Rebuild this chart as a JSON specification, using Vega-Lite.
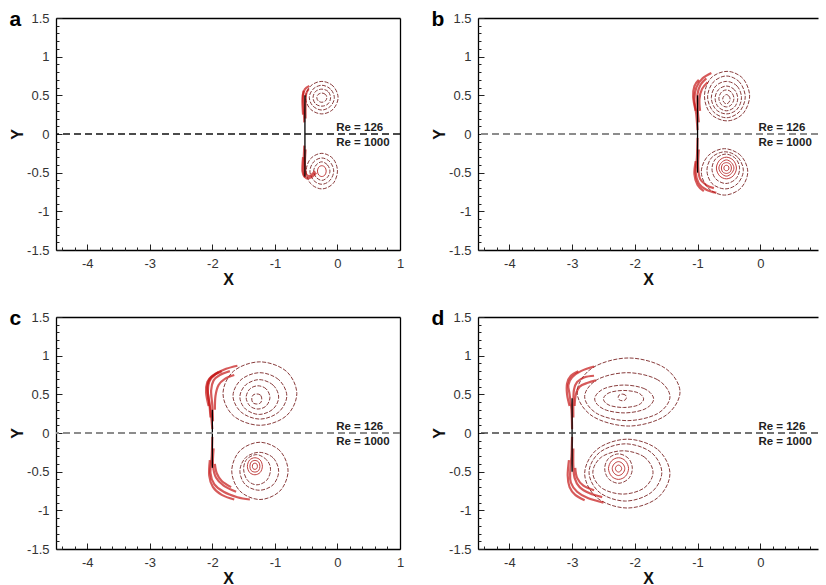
{
"$schema":"https://vega.github.io/schema/vega-lite/v6.json",
"padding":{"left":9,"top":9,"right":0,"bottom":0},
"background":"#ffffff",
"datasets":{"d":[
{"p":"a","k":"r","g":"au1","o":0,"x":0.01,"y":0.47},{"p":"a","k":"r","g":"au1","o":1,"x":-0.07,"y":0.62},{"p":"a","k":"r","g":"au1","o":2,"x":-0.25,"y":0.68},{"p":"a","k":"r","g":"au1","o":3,"x":-0.43,"y":0.62},{"p":"a","k":"r","g":"au1","o":4,"x":-0.51,"y":0.47},{"p":"a","k":"r","g":"au1","o":5,"x":-0.43,"y":0.32},{"p":"a","k":"r","g":"au1","o":6,"x":-0.25,"y":0.26},{"p":"a","k":"r","g":"au1","o":7,"x":-0.07,"y":0.32},
{"p":"a","k":"r","g":"au2","o":0,"x":-0.05,"y":0.47},{"p":"a","k":"r","g":"au2","o":1,"x":-0.11,"y":0.58},{"p":"a","k":"r","g":"au2","o":2,"x":-0.25,"y":0.63},{"p":"a","k":"r","g":"au2","o":3,"x":-0.39,"y":0.58},{"p":"a","k":"r","g":"au2","o":4,"x":-0.45,"y":0.47},{"p":"a","k":"r","g":"au2","o":5,"x":-0.39,"y":0.36},{"p":"a","k":"r","g":"au2","o":6,"x":-0.25,"y":0.31},{"p":"a","k":"r","g":"au2","o":7,"x":-0.11,"y":0.36},
{"p":"a","k":"r","g":"au3","o":0,"x":-0.11,"y":0.47},{"p":"a","k":"r","g":"au3","o":1,"x":-0.15,"y":0.55},{"p":"a","k":"r","g":"au3","o":2,"x":-0.25,"y":0.58},{"p":"a","k":"r","g":"au3","o":3,"x":-0.35,"y":0.55},{"p":"a","k":"r","g":"au3","o":4,"x":-0.39,"y":0.47},{"p":"a","k":"r","g":"au3","o":5,"x":-0.35,"y":0.39},{"p":"a","k":"r","g":"au3","o":6,"x":-0.25,"y":0.36},{"p":"a","k":"r","g":"au3","o":7,"x":-0.15,"y":0.39},
{"p":"a","k":"r","g":"au4","o":0,"x":-0.17,"y":0.47},{"p":"a","k":"r","g":"au4","o":1,"x":-0.19,"y":0.51},{"p":"a","k":"r","g":"au4","o":2,"x":-0.25,"y":0.53},{"p":"a","k":"r","g":"au4","o":3,"x":-0.31,"y":0.51},{"p":"a","k":"r","g":"au4","o":4,"x":-0.33,"y":0.47},{"p":"a","k":"r","g":"au4","o":5,"x":-0.31,"y":0.43},{"p":"a","k":"r","g":"au4","o":6,"x":-0.25,"y":0.41},{"p":"a","k":"r","g":"au4","o":7,"x":-0.19,"y":0.43},
{"p":"a","k":"r","g":"al1","o":0,"x":0.0,"y":-0.48},{"p":"a","k":"r","g":"al1","o":1,"x":-0.07,"y":-0.32},{"p":"a","k":"r","g":"al1","o":2,"x":-0.25,"y":-0.25},{"p":"a","k":"r","g":"al1","o":3,"x":-0.43,"y":-0.32},{"p":"a","k":"r","g":"al1","o":4,"x":-0.5,"y":-0.48},{"p":"a","k":"r","g":"al1","o":5,"x":-0.43,"y":-0.64},{"p":"a","k":"r","g":"al1","o":6,"x":-0.25,"y":-0.71},{"p":"a","k":"r","g":"al1","o":7,"x":-0.07,"y":-0.64},
{"p":"a","k":"r","g":"al2","o":0,"x":-0.06,"y":-0.48},{"p":"a","k":"r","g":"al2","o":1,"x":-0.12,"y":-0.36},{"p":"a","k":"r","g":"al2","o":2,"x":-0.25,"y":-0.31},{"p":"a","k":"r","g":"al2","o":3,"x":-0.38,"y":-0.36},{"p":"a","k":"r","g":"al2","o":4,"x":-0.44,"y":-0.48},{"p":"a","k":"r","g":"al2","o":5,"x":-0.38,"y":-0.6},{"p":"a","k":"r","g":"al2","o":6,"x":-0.25,"y":-0.65},{"p":"a","k":"r","g":"al2","o":7,"x":-0.12,"y":-0.6},
{"p":"a","k":"r","g":"al3","o":0,"x":-0.12,"y":-0.48},{"p":"a","k":"r","g":"al3","o":1,"x":-0.16,"y":-0.4},{"p":"a","k":"r","g":"al3","o":2,"x":-0.25,"y":-0.36},{"p":"a","k":"r","g":"al3","o":3,"x":-0.34,"y":-0.4},{"p":"a","k":"r","g":"al3","o":4,"x":-0.38,"y":-0.48},{"p":"a","k":"r","g":"al3","o":5,"x":-0.34,"y":-0.56},{"p":"a","k":"r","g":"al3","o":6,"x":-0.25,"y":-0.6},{"p":"a","k":"r","g":"al3","o":7,"x":-0.16,"y":-0.56},
{"p":"a","k":"c","g":"al4","o":0,"x":-0.18,"y":-0.48},{"p":"a","k":"c","g":"al4","o":1,"x":-0.2,"y":-0.43},{"p":"a","k":"c","g":"al4","o":2,"x":-0.25,"y":-0.41},{"p":"a","k":"c","g":"al4","o":3,"x":-0.3,"y":-0.43},{"p":"a","k":"c","g":"al4","o":4,"x":-0.32,"y":-0.48},{"p":"a","k":"c","g":"al4","o":5,"x":-0.3,"y":-0.53},{"p":"a","k":"c","g":"al4","o":6,"x":-0.25,"y":-0.55},{"p":"a","k":"c","g":"al4","o":7,"x":-0.2,"y":-0.53},
{"p":"a","k":"s","g":"as1","o":0,"x":-0.53,"y":0.15},{"p":"a","k":"s","g":"as1","o":1,"x":-0.54,"y":0.35},{"p":"a","k":"s","g":"as1","o":2,"x":-0.55,"y":0.5},{"p":"a","k":"s","g":"as1","o":3,"x":-0.52,"y":0.58},{"p":"a","k":"s","g":"as1","o":4,"x":-0.45,"y":0.62},
{"p":"a","k":"s","g":"as2","o":0,"x":-0.51,"y":0.2},{"p":"a","k":"s","g":"as2","o":1,"x":-0.51,"y":0.4},{"p":"a","k":"s","g":"as2","o":2,"x":-0.5,"y":0.52},{"p":"a","k":"s","g":"as2","o":3,"x":-0.46,"y":0.58},
{"p":"a","k":"s","g":"as3","o":0,"x":-0.55,"y":0.25},{"p":"a","k":"s","g":"as3","o":1,"x":-0.56,"y":0.45},{"p":"a","k":"s","g":"as3","o":2,"x":-0.54,"y":0.56},
{"p":"a","k":"s","g":"as4","o":0,"x":-0.53,"y":-0.15},{"p":"a","k":"s","g":"as4","o":1,"x":-0.54,"y":-0.35},{"p":"a","k":"s","g":"as4","o":2,"x":-0.54,"y":-0.5},{"p":"a","k":"s","g":"as4","o":3,"x":-0.5,"y":-0.57},{"p":"a","k":"s","g":"as4","o":4,"x":-0.42,"y":-0.56},{"p":"a","k":"s","g":"as4","o":5,"x":-0.34,"y":-0.5},
{"p":"a","k":"s","g":"as5","o":0,"x":-0.51,"y":-0.2},{"p":"a","k":"s","g":"as5","o":1,"x":-0.52,"y":-0.4},{"p":"a","k":"s","g":"as5","o":2,"x":-0.5,"y":-0.52},{"p":"a","k":"s","g":"as5","o":3,"x":-0.44,"y":-0.54},{"p":"a","k":"s","g":"as5","o":4,"x":-0.36,"y":-0.48},
{"p":"a","k":"s","g":"as6","o":0,"x":-0.55,"y":-0.3},{"p":"a","k":"s","g":"as6","o":1,"x":-0.56,"y":-0.48},{"p":"a","k":"s","g":"as6","o":2,"x":-0.52,"y":-0.56},
{"p":"a","k":"p","g":"ap","o":0,"x":-0.52,"y":0.5},{"p":"a","k":"p","g":"ap","o":1,"x":-0.52,"y":-0.55},

{"p":"b","k":"r","g":"bu1","o":0,"x":-0.17,"y":0.49},{"p":"b","k":"r","g":"bu1","o":1,"x":-0.28,"y":0.72},{"p":"b","k":"r","g":"bu1","o":2,"x":-0.53,"y":0.81},{"p":"b","k":"r","g":"bu1","o":3,"x":-0.79,"y":0.72},{"p":"b","k":"r","g":"bu1","o":4,"x":-0.89,"y":0.49},{"p":"b","k":"r","g":"bu1","o":5,"x":-0.79,"y":0.26},{"p":"b","k":"r","g":"bu1","o":6,"x":-0.53,"y":0.17},{"p":"b","k":"r","g":"bu1","o":7,"x":-0.28,"y":0.26},
{"p":"b","k":"r","g":"bu2","o":0,"x":-0.24,"y":0.48},{"p":"b","k":"r","g":"bu2","o":1,"x":-0.33,"y":0.67},{"p":"b","k":"r","g":"bu2","o":2,"x":-0.54,"y":0.75},{"p":"b","k":"r","g":"bu2","o":3,"x":-0.75,"y":0.67},{"p":"b","k":"r","g":"bu2","o":4,"x":-0.84,"y":0.48},{"p":"b","k":"r","g":"bu2","o":5,"x":-0.75,"y":0.29},{"p":"b","k":"r","g":"bu2","o":6,"x":-0.54,"y":0.21},{"p":"b","k":"r","g":"bu2","o":7,"x":-0.33,"y":0.29},
{"p":"b","k":"r","g":"bu3","o":0,"x":-0.3,"y":0.47},{"p":"b","k":"r","g":"bu3","o":1,"x":-0.37,"y":0.62},{"p":"b","k":"r","g":"bu3","o":2,"x":-0.54,"y":0.68},{"p":"b","k":"r","g":"bu3","o":3,"x":-0.71,"y":0.62},{"p":"b","k":"r","g":"bu3","o":4,"x":-0.78,"y":0.47},{"p":"b","k":"r","g":"bu3","o":5,"x":-0.71,"y":0.32},{"p":"b","k":"r","g":"bu3","o":6,"x":-0.54,"y":0.26},{"p":"b","k":"r","g":"bu3","o":7,"x":-0.37,"y":0.32},
{"p":"b","k":"r","g":"bu4","o":0,"x":-0.36,"y":0.46},{"p":"b","k":"r","g":"bu4","o":1,"x":-0.41,"y":0.57},{"p":"b","k":"r","g":"bu4","o":2,"x":-0.54,"y":0.62},{"p":"b","k":"r","g":"bu4","o":3,"x":-0.67,"y":0.57},{"p":"b","k":"r","g":"bu4","o":4,"x":-0.72,"y":0.46},{"p":"b","k":"r","g":"bu4","o":5,"x":-0.67,"y":0.35},{"p":"b","k":"r","g":"bu4","o":6,"x":-0.54,"y":0.3},{"p":"b","k":"r","g":"bu4","o":7,"x":-0.41,"y":0.35},
{"p":"b","k":"r","g":"bu5","o":0,"x":-0.42,"y":0.46},{"p":"b","k":"r","g":"bu5","o":1,"x":-0.46,"y":0.54},{"p":"b","k":"r","g":"bu5","o":2,"x":-0.54,"y":0.57},{"p":"b","k":"r","g":"bu5","o":3,"x":-0.62,"y":0.54},{"p":"b","k":"r","g":"bu5","o":4,"x":-0.66,"y":0.46},{"p":"b","k":"r","g":"bu5","o":5,"x":-0.62,"y":0.38},{"p":"b","k":"r","g":"bu5","o":6,"x":-0.54,"y":0.35},{"p":"b","k":"r","g":"bu5","o":7,"x":-0.46,"y":0.38},
{"p":"b","k":"r","g":"bu6","o":0,"x":-0.48,"y":0.45},{"p":"b","k":"r","g":"bu6","o":1,"x":-0.5,"y":0.49},{"p":"b","k":"r","g":"bu6","o":2,"x":-0.54,"y":0.51},{"p":"b","k":"r","g":"bu6","o":3,"x":-0.58,"y":0.49},{"p":"b","k":"r","g":"bu6","o":4,"x":-0.6,"y":0.45},{"p":"b","k":"r","g":"bu6","o":5,"x":-0.58,"y":0.41},{"p":"b","k":"r","g":"bu6","o":6,"x":-0.54,"y":0.39},{"p":"b","k":"r","g":"bu6","o":7,"x":-0.5,"y":0.41},
{"p":"b","k":"r","g":"bl1","o":0,"x":-0.2,"y":-0.49},{"p":"b","k":"r","g":"bl1","o":1,"x":-0.31,"y":-0.28},{"p":"b","k":"r","g":"bl1","o":2,"x":-0.57,"y":-0.19},{"p":"b","k":"r","g":"bl1","o":3,"x":-0.83,"y":-0.28},{"p":"b","k":"r","g":"bl1","o":4,"x":-0.94,"y":-0.49},{"p":"b","k":"r","g":"bl1","o":5,"x":-0.83,"y":-0.7},{"p":"b","k":"r","g":"bl1","o":6,"x":-0.57,"y":-0.79},{"p":"b","k":"r","g":"bl1","o":7,"x":-0.31,"y":-0.7},
{"p":"b","k":"r","g":"bl2","o":0,"x":-0.27,"y":-0.47},{"p":"b","k":"r","g":"bl2","o":1,"x":-0.36,"y":-0.3},{"p":"b","k":"r","g":"bl2","o":2,"x":-0.56,"y":-0.23},{"p":"b","k":"r","g":"bl2","o":3,"x":-0.77,"y":-0.3},{"p":"b","k":"r","g":"bl2","o":4,"x":-0.85,"y":-0.47},{"p":"b","k":"r","g":"bl2","o":5,"x":-0.77,"y":-0.64},{"p":"b","k":"r","g":"bl2","o":6,"x":-0.56,"y":-0.71},{"p":"b","k":"r","g":"bl2","o":7,"x":-0.36,"y":-0.64},
{"p":"b","k":"r","g":"bl3","o":0,"x":-0.33,"y":-0.45},{"p":"b","k":"r","g":"bl3","o":1,"x":-0.39,"y":-0.32},{"p":"b","k":"r","g":"bl3","o":2,"x":-0.55,"y":-0.26},{"p":"b","k":"r","g":"bl3","o":3,"x":-0.71,"y":-0.32},{"p":"b","k":"r","g":"bl3","o":4,"x":-0.77,"y":-0.45},{"p":"b","k":"r","g":"bl3","o":5,"x":-0.71,"y":-0.58},{"p":"b","k":"r","g":"bl3","o":6,"x":-0.55,"y":-0.64},{"p":"b","k":"r","g":"bl3","o":7,"x":-0.39,"y":-0.58},
{"p":"b","k":"c","g":"bc1","o":0,"x":-0.38,"y":-0.44},{"p":"b","k":"c","g":"bc1","o":1,"x":-0.43,"y":-0.34},{"p":"b","k":"c","g":"bc1","o":2,"x":-0.54,"y":-0.3},{"p":"b","k":"c","g":"bc1","o":3,"x":-0.65,"y":-0.34},{"p":"b","k":"c","g":"bc1","o":4,"x":-0.7,"y":-0.44},{"p":"b","k":"c","g":"bc1","o":5,"x":-0.65,"y":-0.54},{"p":"b","k":"c","g":"bc1","o":6,"x":-0.54,"y":-0.58},{"p":"b","k":"c","g":"bc1","o":7,"x":-0.43,"y":-0.54},
{"p":"b","k":"c","g":"bc2","o":0,"x":-0.42,"y":-0.44},{"p":"b","k":"c","g":"bc2","o":1,"x":-0.46,"y":-0.37},{"p":"b","k":"c","g":"bc2","o":2,"x":-0.54,"y":-0.335},{"p":"b","k":"c","g":"bc2","o":3,"x":-0.62,"y":-0.37},{"p":"b","k":"c","g":"bc2","o":4,"x":-0.66,"y":-0.44},{"p":"b","k":"c","g":"bc2","o":5,"x":-0.62,"y":-0.51},{"p":"b","k":"c","g":"bc2","o":6,"x":-0.54,"y":-0.545},{"p":"b","k":"c","g":"bc2","o":7,"x":-0.46,"y":-0.51},
{"p":"b","k":"c","g":"bc3","o":0,"x":-0.46,"y":-0.44},{"p":"b","k":"c","g":"bc3","o":1,"x":-0.48,"y":-0.39},{"p":"b","k":"c","g":"bc3","o":2,"x":-0.54,"y":-0.37},{"p":"b","k":"c","g":"bc3","o":3,"x":-0.6,"y":-0.39},{"p":"b","k":"c","g":"bc3","o":4,"x":-0.62,"y":-0.44},{"p":"b","k":"c","g":"bc3","o":5,"x":-0.6,"y":-0.49},{"p":"b","k":"c","g":"bc3","o":6,"x":-0.54,"y":-0.51},{"p":"b","k":"c","g":"bc3","o":7,"x":-0.48,"y":-0.49},
{"p":"b","k":"c","g":"bc4","o":0,"x":-0.5,"y":-0.44},{"p":"b","k":"c","g":"bc4","o":1,"x":-0.51,"y":-0.415},{"p":"b","k":"c","g":"bc4","o":2,"x":-0.54,"y":-0.405},{"p":"b","k":"c","g":"bc4","o":3,"x":-0.57,"y":-0.415},{"p":"b","k":"c","g":"bc4","o":4,"x":-0.58,"y":-0.44},{"p":"b","k":"c","g":"bc4","o":5,"x":-0.57,"y":-0.465},{"p":"b","k":"c","g":"bc4","o":6,"x":-0.54,"y":-0.475},{"p":"b","k":"c","g":"bc4","o":7,"x":-0.51,"y":-0.465},
{"p":"b","k":"s","g":"bs1","o":0,"x":-1.0,"y":0.05},{"p":"b","k":"s","g":"bs1","o":1,"x":-1.02,"y":0.25},{"p":"b","k":"s","g":"bs1","o":2,"x":-1.05,"y":0.45},{"p":"b","k":"s","g":"bs1","o":3,"x":-1.02,"y":0.6},{"p":"b","k":"s","g":"bs1","o":4,"x":-0.92,"y":0.72},{"p":"b","k":"s","g":"bs1","o":5,"x":-0.78,"y":0.79},
{"p":"b","k":"s","g":"bs2","o":0,"x":-0.98,"y":0.15},{"p":"b","k":"s","g":"bs2","o":1,"x":-1.0,"y":0.35},{"p":"b","k":"s","g":"bs2","o":2,"x":-1.0,"y":0.52},{"p":"b","k":"s","g":"bs2","o":3,"x":-0.95,"y":0.64},{"p":"b","k":"s","g":"bs2","o":4,"x":-0.86,"y":0.72},
{"p":"b","k":"s","g":"bs3","o":0,"x":-1.03,"y":0.3},{"p":"b","k":"s","g":"bs3","o":1,"x":-1.07,"y":0.48},{"p":"b","k":"s","g":"bs3","o":2,"x":-1.05,"y":0.62},{"p":"b","k":"s","g":"bs3","o":3,"x":-0.98,"y":0.7},
{"p":"b","k":"s","g":"bs4","o":0,"x":-0.96,"y":0.3},{"p":"b","k":"s","g":"bs4","o":1,"x":-0.97,"y":0.45},{"p":"b","k":"s","g":"bs4","o":2,"x":-0.93,"y":0.58},{"p":"b","k":"s","g":"bs4","o":3,"x":-0.84,"y":0.67},
{"p":"b","k":"s","g":"bs5","o":0,"x":-1.0,"y":-0.05},{"p":"b","k":"s","g":"bs5","o":1,"x":-1.01,"y":-0.3},{"p":"b","k":"s","g":"bs5","o":2,"x":-1.03,"y":-0.5},{"p":"b","k":"s","g":"bs5","o":3,"x":-0.98,"y":-0.64},{"p":"b","k":"s","g":"bs5","o":4,"x":-0.86,"y":-0.72},{"p":"b","k":"s","g":"bs5","o":5,"x":-0.7,"y":-0.76},
{"p":"b","k":"s","g":"bs6","o":0,"x":-0.98,"y":-0.2},{"p":"b","k":"s","g":"bs6","o":1,"x":-0.99,"y":-0.42},{"p":"b","k":"s","g":"bs6","o":2,"x":-0.96,"y":-0.58},{"p":"b","k":"s","g":"bs6","o":3,"x":-0.86,"y":-0.66},{"p":"b","k":"s","g":"bs6","o":4,"x":-0.74,"y":-0.7},
{"p":"b","k":"s","g":"bs7","o":0,"x":-1.03,"y":-0.35},{"p":"b","k":"s","g":"bs7","o":1,"x":-1.05,"y":-0.52},{"p":"b","k":"s","g":"bs7","o":2,"x":-1.0,"y":-0.66},{"p":"b","k":"s","g":"bs7","o":3,"x":-0.9,"y":-0.74},
{"p":"b","k":"p","g":"bp","o":0,"x":-1.0,"y":0.5},{"p":"b","k":"p","g":"bp","o":1,"x":-1.0,"y":-0.5},

{"p":"c","k":"r","g":"cu1","o":0,"x":-0.65,"y":0.51},{"p":"c","k":"r","g":"cu1","o":1,"x":-0.82,"y":0.8},{"p":"c","k":"r","g":"cu1","o":2,"x":-1.24,"y":0.92},{"p":"c","k":"r","g":"cu1","o":3,"x":-1.66,"y":0.8},{"p":"c","k":"r","g":"cu1","o":4,"x":-1.83,"y":0.51},{"p":"c","k":"r","g":"cu1","o":5,"x":-1.66,"y":0.22},{"p":"c","k":"r","g":"cu1","o":6,"x":-1.24,"y":0.1},{"p":"c","k":"r","g":"cu1","o":7,"x":-0.82,"y":0.22},
{"p":"c","k":"r","g":"cu2","o":0,"x":-0.81,"y":0.48},{"p":"c","k":"r","g":"cu2","o":1,"x":-0.94,"y":0.69},{"p":"c","k":"r","g":"cu2","o":2,"x":-1.24,"y":0.78},{"p":"c","k":"r","g":"cu2","o":3,"x":-1.54,"y":0.69},{"p":"c","k":"r","g":"cu2","o":4,"x":-1.67,"y":0.48},{"p":"c","k":"r","g":"cu2","o":5,"x":-1.54,"y":0.27},{"p":"c","k":"r","g":"cu2","o":6,"x":-1.24,"y":0.18},{"p":"c","k":"r","g":"cu2","o":7,"x":-0.94,"y":0.27},
{"p":"c","k":"r","g":"cu3","o":0,"x":-0.94,"y":0.465},{"p":"c","k":"r","g":"cu3","o":1,"x":-1.03,"y":0.62},{"p":"c","k":"r","g":"cu3","o":2,"x":-1.25,"y":0.69},{"p":"c","k":"r","g":"cu3","o":3,"x":-1.47,"y":0.62},{"p":"c","k":"r","g":"cu3","o":4,"x":-1.56,"y":0.465},{"p":"c","k":"r","g":"cu3","o":5,"x":-1.47,"y":0.31},{"p":"c","k":"r","g":"cu3","o":6,"x":-1.25,"y":0.24},{"p":"c","k":"r","g":"cu3","o":7,"x":-1.03,"y":0.31},
{"p":"c","k":"r","g":"cu4","o":0,"x":-1.08,"y":0.46},{"p":"c","k":"r","g":"cu4","o":1,"x":-1.14,"y":0.57},{"p":"c","k":"r","g":"cu4","o":2,"x":-1.27,"y":0.61},{"p":"c","k":"r","g":"cu4","o":3,"x":-1.4,"y":0.57},{"p":"c","k":"r","g":"cu4","o":4,"x":-1.46,"y":0.46},{"p":"c","k":"r","g":"cu4","o":5,"x":-1.4,"y":0.35},{"p":"c","k":"r","g":"cu4","o":6,"x":-1.27,"y":0.31},{"p":"c","k":"r","g":"cu4","o":7,"x":-1.14,"y":0.35},
{"p":"c","k":"r","g":"cu5","o":0,"x":-1.21,"y":0.44},{"p":"c","k":"r","g":"cu5","o":1,"x":-1.23,"y":0.49},{"p":"c","k":"r","g":"cu5","o":2,"x":-1.29,"y":0.505},{"p":"c","k":"r","g":"cu5","o":3,"x":-1.35,"y":0.49},{"p":"c","k":"r","g":"cu5","o":4,"x":-1.37,"y":0.44},{"p":"c","k":"r","g":"cu5","o":5,"x":-1.35,"y":0.39},{"p":"c","k":"r","g":"cu5","o":6,"x":-1.29,"y":0.375},{"p":"c","k":"r","g":"cu5","o":7,"x":-1.23,"y":0.39},
{"p":"c","k":"r","g":"cl1","o":0,"x":-0.79,"y":-0.49},{"p":"c","k":"r","g":"cl1","o":1,"x":-0.92,"y":-0.23},{"p":"c","k":"r","g":"cl1","o":2,"x":-1.24,"y":-0.12},{"p":"c","k":"r","g":"cl1","o":3,"x":-1.56,"y":-0.23},{"p":"c","k":"r","g":"cl1","o":4,"x":-1.69,"y":-0.49},{"p":"c","k":"r","g":"cl1","o":5,"x":-1.56,"y":-0.75},{"p":"c","k":"r","g":"cl1","o":6,"x":-1.24,"y":-0.86},{"p":"c","k":"r","g":"cl1","o":7,"x":-0.92,"y":-0.75},
{"p":"c","k":"r","g":"cl2","o":0,"x":-0.94,"y":-0.495},{"p":"c","k":"r","g":"cl2","o":1,"x":-1.03,"y":-0.32},{"p":"c","k":"r","g":"cl2","o":2,"x":-1.25,"y":-0.25},{"p":"c","k":"r","g":"cl2","o":3,"x":-1.47,"y":-0.32},{"p":"c","k":"r","g":"cl2","o":4,"x":-1.56,"y":-0.495},{"p":"c","k":"r","g":"cl2","o":5,"x":-1.47,"y":-0.67},{"p":"c","k":"r","g":"cl2","o":6,"x":-1.25,"y":-0.74},{"p":"c","k":"r","g":"cl2","o":7,"x":-1.03,"y":-0.67},
{"p":"c","k":"r","g":"cl3","o":0,"x":-1.07,"y":-0.47},{"p":"c","k":"r","g":"cl3","o":1,"x":-1.13,"y":-0.35},{"p":"c","k":"r","g":"cl3","o":2,"x":-1.29,"y":-0.28},{"p":"c","k":"r","g":"cl3","o":3,"x":-1.45,"y":-0.34},{"p":"c","k":"r","g":"cl3","o":4,"x":-1.5,"y":-0.47},{"p":"c","k":"r","g":"cl3","o":5,"x":-1.44,"y":-0.61},{"p":"c","k":"r","g":"cl3","o":6,"x":-1.29,"y":-0.67},{"p":"c","k":"r","g":"cl3","o":7,"x":-1.13,"y":-0.61},
{"p":"c","k":"c","g":"cc1","o":0,"x":-1.2,"y":-0.43},{"p":"c","k":"c","g":"cc1","o":1,"x":-1.235,"y":-0.35},{"p":"c","k":"c","g":"cc1","o":2,"x":-1.32,"y":-0.32},{"p":"c","k":"c","g":"cc1","o":3,"x":-1.405,"y":-0.35},{"p":"c","k":"c","g":"cc1","o":4,"x":-1.44,"y":-0.43},{"p":"c","k":"c","g":"cc1","o":5,"x":-1.405,"y":-0.51},{"p":"c","k":"c","g":"cc1","o":6,"x":-1.32,"y":-0.54},{"p":"c","k":"c","g":"cc1","o":7,"x":-1.235,"y":-0.51},
{"p":"c","k":"c","g":"cc2","o":0,"x":-1.24,"y":-0.43},{"p":"c","k":"c","g":"cc2","o":1,"x":-1.26,"y":-0.375},{"p":"c","k":"c","g":"cc2","o":2,"x":-1.32,"y":-0.355},{"p":"c","k":"c","g":"cc2","o":3,"x":-1.38,"y":-0.375},{"p":"c","k":"c","g":"cc2","o":4,"x":-1.4,"y":-0.43},{"p":"c","k":"c","g":"cc2","o":5,"x":-1.38,"y":-0.485},{"p":"c","k":"c","g":"cc2","o":6,"x":-1.32,"y":-0.505},{"p":"c","k":"c","g":"cc2","o":7,"x":-1.26,"y":-0.485},
{"p":"c","k":"c","g":"cc3","o":0,"x":-1.28,"y":-0.43},{"p":"c","k":"c","g":"cc3","o":1,"x":-1.29,"y":-0.4},{"p":"c","k":"c","g":"cc3","o":2,"x":-1.32,"y":-0.39},{"p":"c","k":"c","g":"cc3","o":3,"x":-1.35,"y":-0.4},{"p":"c","k":"c","g":"cc3","o":4,"x":-1.36,"y":-0.43},{"p":"c","k":"c","g":"cc3","o":5,"x":-1.35,"y":-0.46},{"p":"c","k":"c","g":"cc3","o":6,"x":-1.32,"y":-0.47},{"p":"c","k":"c","g":"cc3","o":7,"x":-1.29,"y":-0.46},
{"p":"c","k":"s","g":"cs1","o":0,"x":-2.0,"y":0.05},{"p":"c","k":"s","g":"cs1","o":1,"x":-2.03,"y":0.3},{"p":"c","k":"s","g":"cs1","o":2,"x":-2.07,"y":0.5},{"p":"c","k":"s","g":"cs1","o":3,"x":-2.05,"y":0.66},{"p":"c","k":"s","g":"cs1","o":4,"x":-1.95,"y":0.76},{"p":"c","k":"s","g":"cs1","o":5,"x":-1.78,"y":0.83},{"p":"c","k":"s","g":"cs1","o":6,"x":-1.6,"y":0.87},
{"p":"c","k":"s","g":"cs2","o":0,"x":-1.99,"y":0.15},{"p":"c","k":"s","g":"cs2","o":1,"x":-2.0,"y":0.35},{"p":"c","k":"s","g":"cs2","o":2,"x":-2.02,"y":0.55},{"p":"c","k":"s","g":"cs2","o":3,"x":-1.98,"y":0.68},{"p":"c","k":"s","g":"cs2","o":4,"x":-1.88,"y":0.75},{"p":"c","k":"s","g":"cs2","o":5,"x":-1.72,"y":0.8},
{"p":"c","k":"s","g":"cs3","o":0,"x":-2.06,"y":0.35},{"p":"c","k":"s","g":"cs3","o":1,"x":-2.1,"y":0.52},{"p":"c","k":"s","g":"cs3","o":2,"x":-2.08,"y":0.66},{"p":"c","k":"s","g":"cs3","o":3,"x":-2.0,"y":0.74},{"p":"c","k":"s","g":"cs3","o":4,"x":-1.9,"y":0.79},
{"p":"c","k":"s","g":"cs4","o":0,"x":-1.96,"y":0.3},{"p":"c","k":"s","g":"cs4","o":1,"x":-1.95,"y":0.48},{"p":"c","k":"s","g":"cs4","o":2,"x":-1.9,"y":0.62},{"p":"c","k":"s","g":"cs4","o":3,"x":-1.8,"y":0.7},{"p":"c","k":"s","g":"cs4","o":4,"x":-1.65,"y":0.75},
{"p":"c","k":"s","g":"cs5","o":0,"x":-2.03,"y":0.2},{"p":"c","k":"s","g":"cs5","o":1,"x":-2.05,"y":0.4},{"p":"c","k":"s","g":"cs5","o":2,"x":-2.08,"y":0.6},{"p":"c","k":"s","g":"cs5","o":3,"x":-2.02,"y":0.72},{"p":"c","k":"s","g":"cs5","o":4,"x":-1.85,"y":0.8},
{"p":"c","k":"s","g":"cs6","o":0,"x":-2.0,"y":-0.05},{"p":"c","k":"s","g":"cs6","o":1,"x":-2.01,"y":-0.3},{"p":"c","k":"s","g":"cs6","o":2,"x":-2.03,"y":-0.52},{"p":"c","k":"s","g":"cs6","o":3,"x":-1.97,"y":-0.66},{"p":"c","k":"s","g":"cs6","o":4,"x":-1.82,"y":-0.76},{"p":"c","k":"s","g":"cs6","o":5,"x":-1.6,"y":-0.83},{"p":"c","k":"s","g":"cs6","o":6,"x":-1.4,"y":-0.86},
{"p":"c","k":"s","g":"cs7","o":0,"x":-1.98,"y":-0.2},{"p":"c","k":"s","g":"cs7","o":1,"x":-1.99,"y":-0.42},{"p":"c","k":"s","g":"cs7","o":2,"x":-1.94,"y":-0.58},{"p":"c","k":"s","g":"cs7","o":3,"x":-1.82,"y":-0.68},{"p":"c","k":"s","g":"cs7","o":4,"x":-1.62,"y":-0.76},
{"p":"c","k":"s","g":"cs8","o":0,"x":-2.04,"y":-0.35},{"p":"c","k":"s","g":"cs8","o":1,"x":-2.05,"y":-0.55},{"p":"c","k":"s","g":"cs8","o":2,"x":-1.99,"y":-0.7},{"p":"c","k":"s","g":"cs8","o":3,"x":-1.85,"y":-0.8},{"p":"c","k":"s","g":"cs8","o":4,"x":-1.65,"y":-0.86},
{"p":"c","k":"s","g":"cs9","o":0,"x":-1.96,"y":-0.4},{"p":"c","k":"s","g":"cs9","o":1,"x":-1.93,"y":-0.52},{"p":"c","k":"s","g":"cs9","o":2,"x":-1.85,"y":-0.62},{"p":"c","k":"s","g":"cs9","o":3,"x":-1.7,"y":-0.7},
{"p":"c","k":"p","g":"cp","o":0,"x":-2.0,"y":0.3},{"p":"c","k":"p","g":"cp","o":1,"x":-2.0,"y":-0.45},

{"p":"d","k":"r","g":"du1","o":0,"x":-1.28,"y":0.53},{"p":"d","k":"r","g":"du1","o":1,"x":-1.52,"y":0.84},{"p":"d","k":"r","g":"du1","o":2,"x":-2.1,"y":0.97},{"p":"d","k":"r","g":"du1","o":3,"x":-2.68,"y":0.84},{"p":"d","k":"r","g":"du1","o":4,"x":-2.92,"y":0.53},{"p":"d","k":"r","g":"du1","o":5,"x":-2.68,"y":0.22},{"p":"d","k":"r","g":"du1","o":6,"x":-2.1,"y":0.09},{"p":"d","k":"r","g":"du1","o":7,"x":-1.52,"y":0.22},
{"p":"d","k":"r","g":"du2","o":0,"x":-1.44,"y":0.47},{"p":"d","k":"r","g":"du2","o":1,"x":-1.64,"y":0.69},{"p":"d","k":"r","g":"du2","o":2,"x":-2.12,"y":0.78},{"p":"d","k":"r","g":"du2","o":3,"x":-2.6,"y":0.69},{"p":"d","k":"r","g":"du2","o":4,"x":-2.8,"y":0.47},{"p":"d","k":"r","g":"du2","o":5,"x":-2.6,"y":0.25},{"p":"d","k":"r","g":"du2","o":6,"x":-2.12,"y":0.16},{"p":"d","k":"r","g":"du2","o":7,"x":-1.64,"y":0.25},
{"p":"d","k":"r","g":"du3","o":0,"x":-1.7,"y":0.44},{"p":"d","k":"r","g":"du3","o":1,"x":-1.84,"y":0.57},{"p":"d","k":"r","g":"du3","o":2,"x":-2.17,"y":0.62},{"p":"d","k":"r","g":"du3","o":3,"x":-2.5,"y":0.57},{"p":"d","k":"r","g":"du3","o":4,"x":-2.64,"y":0.44},{"p":"d","k":"r","g":"du3","o":5,"x":-2.5,"y":0.31},{"p":"d","k":"r","g":"du3","o":6,"x":-2.17,"y":0.26},{"p":"d","k":"r","g":"du3","o":7,"x":-1.84,"y":0.31},
{"p":"d","k":"r","g":"du4","o":0,"x":-1.86,"y":0.44},{"p":"d","k":"r","g":"du4","o":1,"x":-1.95,"y":0.52},{"p":"d","k":"r","g":"du4","o":2,"x":-2.18,"y":0.55},{"p":"d","k":"r","g":"du4","o":3,"x":-2.41,"y":0.52},{"p":"d","k":"r","g":"du4","o":4,"x":-2.5,"y":0.44},{"p":"d","k":"r","g":"du4","o":5,"x":-2.41,"y":0.36},{"p":"d","k":"r","g":"du4","o":6,"x":-2.18,"y":0.33},{"p":"d","k":"r","g":"du4","o":7,"x":-1.95,"y":0.36},
{"p":"d","k":"r","g":"du5","o":0,"x":-2.135,"y":0.46},{"p":"d","k":"r","g":"du5","o":1,"x":-2.15,"y":0.49},{"p":"d","k":"r","g":"du5","o":2,"x":-2.2,"y":0.503},{"p":"d","k":"r","g":"du5","o":3,"x":-2.25,"y":0.49},{"p":"d","k":"r","g":"du5","o":4,"x":-2.265,"y":0.46},{"p":"d","k":"r","g":"du5","o":5,"x":-2.25,"y":0.43},{"p":"d","k":"r","g":"du5","o":6,"x":-2.2,"y":0.417},{"p":"d","k":"r","g":"du5","o":7,"x":-2.15,"y":0.43},
{"p":"d","k":"r","g":"dl1","o":0,"x":-1.44,"y":-0.525},{"p":"d","k":"r","g":"dl1","o":1,"x":-1.64,"y":-0.21},{"p":"d","k":"r","g":"dl1","o":2,"x":-2.12,"y":-0.08},{"p":"d","k":"r","g":"dl1","o":3,"x":-2.6,"y":-0.21},{"p":"d","k":"r","g":"dl1","o":4,"x":-2.8,"y":-0.525},{"p":"d","k":"r","g":"dl1","o":5,"x":-2.6,"y":-0.84},{"p":"d","k":"r","g":"dl1","o":6,"x":-2.12,"y":-0.97},{"p":"d","k":"r","g":"dl1","o":7,"x":-1.64,"y":-0.84},
{"p":"d","k":"r","g":"dl2","o":0,"x":-1.57,"y":-0.51},{"p":"d","k":"r","g":"dl2","o":1,"x":-1.74,"y":-0.25},{"p":"d","k":"r","g":"dl2","o":2,"x":-2.15,"y":-0.14},{"p":"d","k":"r","g":"dl2","o":3,"x":-2.56,"y":-0.25},{"p":"d","k":"r","g":"dl2","o":4,"x":-2.73,"y":-0.51},{"p":"d","k":"r","g":"dl2","o":5,"x":-2.56,"y":-0.77},{"p":"d","k":"r","g":"dl2","o":6,"x":-2.15,"y":-0.88},{"p":"d","k":"r","g":"dl2","o":7,"x":-1.74,"y":-0.77},
{"p":"d","k":"r","g":"dl3","o":0,"x":-1.71,"y":-0.51},{"p":"d","k":"r","g":"dl3","o":1,"x":-1.85,"y":-0.31},{"p":"d","k":"r","g":"dl3","o":2,"x":-2.19,"y":-0.23},{"p":"d","k":"r","g":"dl3","o":3,"x":-2.53,"y":-0.31},{"p":"d","k":"r","g":"dl3","o":4,"x":-2.67,"y":-0.51},{"p":"d","k":"r","g":"dl3","o":5,"x":-2.53,"y":-0.71},{"p":"d","k":"r","g":"dl3","o":6,"x":-2.19,"y":-0.79},{"p":"d","k":"r","g":"dl3","o":7,"x":-1.85,"y":-0.71},
{"p":"d","k":"r","g":"dc1","o":0,"x":-2.04,"y":-0.46},{"p":"d","k":"r","g":"dc1","o":1,"x":-2.1,"y":-0.33},{"p":"d","k":"r","g":"dc1","o":2,"x":-2.26,"y":-0.27},{"p":"d","k":"r","g":"dc1","o":3,"x":-2.42,"y":-0.33},{"p":"d","k":"r","g":"dc1","o":4,"x":-2.48,"y":-0.46},{"p":"d","k":"r","g":"dc1","o":5,"x":-2.42,"y":-0.59},{"p":"d","k":"r","g":"dc1","o":6,"x":-2.26,"y":-0.65},{"p":"d","k":"r","g":"dc1","o":7,"x":-2.1,"y":-0.59},
{"p":"d","k":"c","g":"dc2","o":0,"x":-2.1,"y":-0.46},{"p":"d","k":"c","g":"dc2","o":1,"x":-2.15,"y":-0.36},{"p":"d","k":"c","g":"dc2","o":2,"x":-2.26,"y":-0.32},{"p":"d","k":"c","g":"dc2","o":3,"x":-2.37,"y":-0.36},{"p":"d","k":"c","g":"dc2","o":4,"x":-2.42,"y":-0.46},{"p":"d","k":"c","g":"dc2","o":5,"x":-2.37,"y":-0.56},{"p":"d","k":"c","g":"dc2","o":6,"x":-2.26,"y":-0.6},{"p":"d","k":"c","g":"dc2","o":7,"x":-2.15,"y":-0.56},
{"p":"d","k":"c","g":"dc3","o":0,"x":-2.16,"y":-0.46},{"p":"d","k":"c","g":"dc3","o":1,"x":-2.19,"y":-0.4},{"p":"d","k":"c","g":"dc3","o":2,"x":-2.26,"y":-0.37},{"p":"d","k":"c","g":"dc3","o":3,"x":-2.33,"y":-0.4},{"p":"d","k":"c","g":"dc3","o":4,"x":-2.36,"y":-0.46},{"p":"d","k":"c","g":"dc3","o":5,"x":-2.33,"y":-0.52},{"p":"d","k":"c","g":"dc3","o":6,"x":-2.26,"y":-0.55},{"p":"d","k":"c","g":"dc3","o":7,"x":-2.19,"y":-0.52},
{"p":"d","k":"c","g":"dc4","o":0,"x":-2.21,"y":-0.46},{"p":"d","k":"c","g":"dc4","o":1,"x":-2.225,"y":-0.43},{"p":"d","k":"c","g":"dc4","o":2,"x":-2.26,"y":-0.415},{"p":"d","k":"c","g":"dc4","o":3,"x":-2.295,"y":-0.43},{"p":"d","k":"c","g":"dc4","o":4,"x":-2.31,"y":-0.46},{"p":"d","k":"c","g":"dc4","o":5,"x":-2.295,"y":-0.49},{"p":"d","k":"c","g":"dc4","o":6,"x":-2.26,"y":-0.505},{"p":"d","k":"c","g":"dc4","o":7,"x":-2.225,"y":-0.49},
{"p":"d","k":"s","g":"ds1","o":0,"x":-3.0,"y":0.05},{"p":"d","k":"s","g":"ds1","o":1,"x":-3.01,"y":0.3},{"p":"d","k":"s","g":"ds1","o":2,"x":-3.04,"y":0.5},{"p":"d","k":"s","g":"ds1","o":3,"x":-3.06,"y":0.62},{"p":"d","k":"s","g":"ds1","o":4,"x":-3.0,"y":0.72},{"p":"d","k":"s","g":"ds1","o":5,"x":-2.86,"y":0.8},{"p":"d","k":"s","g":"ds1","o":6,"x":-2.65,"y":0.86},
{"p":"d","k":"s","g":"ds2","o":0,"x":-2.98,"y":0.2},{"p":"d","k":"s","g":"ds2","o":1,"x":-2.98,"y":0.4},{"p":"d","k":"s","g":"ds2","o":2,"x":-2.97,"y":0.56},{"p":"d","k":"s","g":"ds2","o":3,"x":-2.92,"y":0.66},{"p":"d","k":"s","g":"ds2","o":4,"x":-2.8,"y":0.72},{"p":"d","k":"s","g":"ds2","o":5,"x":-2.65,"y":0.74},
{"p":"d","k":"s","g":"ds3","o":0,"x":-3.04,"y":0.35},{"p":"d","k":"s","g":"ds3","o":1,"x":-3.08,"y":0.5},{"p":"d","k":"s","g":"ds3","o":2,"x":-3.08,"y":0.64},{"p":"d","k":"s","g":"ds3","o":3,"x":-3.02,"y":0.74},{"p":"d","k":"s","g":"ds3","o":4,"x":-2.9,"y":0.8},
{"p":"d","k":"s","g":"ds4","o":0,"x":-2.96,"y":0.35},{"p":"d","k":"s","g":"ds4","o":1,"x":-2.94,"y":0.5},{"p":"d","k":"s","g":"ds4","o":2,"x":-2.88,"y":0.6},{"p":"d","k":"s","g":"ds4","o":3,"x":-2.75,"y":0.65},{"p":"d","k":"s","g":"ds4","o":4,"x":-2.62,"y":0.68},
{"p":"d","k":"s","g":"ds5","o":0,"x":-3.0,"y":-0.05},{"p":"d","k":"s","g":"ds5","o":1,"x":-3.01,"y":-0.3},{"p":"d","k":"s","g":"ds5","o":2,"x":-3.03,"y":-0.5},{"p":"d","k":"s","g":"ds5","o":3,"x":-3.02,"y":-0.64},{"p":"d","k":"s","g":"ds5","o":4,"x":-2.92,"y":-0.76},{"p":"d","k":"s","g":"ds5","o":5,"x":-2.75,"y":-0.84},{"p":"d","k":"s","g":"ds5","o":6,"x":-2.5,"y":-0.9},
{"p":"d","k":"s","g":"ds6","o":0,"x":-2.98,"y":-0.2},{"p":"d","k":"s","g":"ds6","o":1,"x":-2.98,"y":-0.42},{"p":"d","k":"s","g":"ds6","o":2,"x":-2.96,"y":-0.58},{"p":"d","k":"s","g":"ds6","o":3,"x":-2.88,"y":-0.7},{"p":"d","k":"s","g":"ds6","o":4,"x":-2.72,"y":-0.78},{"p":"d","k":"s","g":"ds6","o":5,"x":-2.52,"y":-0.83},
{"p":"d","k":"s","g":"ds7","o":0,"x":-3.05,"y":-0.35},{"p":"d","k":"s","g":"ds7","o":1,"x":-3.07,"y":-0.55},{"p":"d","k":"s","g":"ds7","o":2,"x":-3.04,"y":-0.7},{"p":"d","k":"s","g":"ds7","o":3,"x":-2.95,"y":-0.8},{"p":"d","k":"s","g":"ds7","o":4,"x":-2.8,"y":-0.87},
{"p":"d","k":"s","g":"ds8","o":0,"x":-2.95,"y":-0.45},{"p":"d","k":"s","g":"ds8","o":1,"x":-2.92,"y":-0.58},{"p":"d","k":"s","g":"ds8","o":2,"x":-2.82,"y":-0.68},{"p":"d","k":"s","g":"ds8","o":3,"x":-2.65,"y":-0.74},
{"p":"d","k":"p","g":"dp","o":0,"x":-3.0,"y":0.45},{"p":"d","k":"p","g":"dp","o":1,"x":-3.0,"y":-0.5}
]},
"vconcat":[
{"hconcat":[
{"width":344,"height":232,
 "title":{"text":"a","anchor":"start","frame":"bounds","fontSize":21,"fontWeight":"bold","font":"Liberation Sans","color":"#000","dy":22},
 "resolve":{"axis":{"x":"independent","y":"independent"}},
 "layer":[
  {"data":{"name":"d"},"transform":[{"filter":"datum.p=='a' && datum.k=='r'"}],
   "mark":{"type":"line","interpolate":"cardinal-closed","color":"#7a2626","strokeWidth":0.9,"strokeDash":[4,1.5]},
   "encoding":{"x":{"field":"x","type":"quantitative","scale":{"domain":[-4.5,1],"nice":false,"zero":false},"axis":{"orient":"bottom","values":[-4,-3,-2,-1,0,1],"labelExpr":"datum.value+''","title":"X"}},
     "y":{"field":"y","type":"quantitative","scale":{"domain":[-1.5,1.5],"nice":false,"zero":false},"axis":{"orient":"left","values":[-1.5,-1,-0.5,0,0.5,1,1.5],"labelExpr":"datum.value+''","title":"Y"}},
     "detail":{"field":"g"},"order":{"field":"o","type":"quantitative"}}},
  {"data":{"name":"d"},"transform":[{"filter":"datum.p=='a' && datum.k=='c'"}],
   "mark":{"type":"line","interpolate":"cardinal-closed","color":"#b82a2a","strokeWidth":0.9},
   "encoding":{"x":{"field":"x","type":"quantitative","axis":{"orient":"bottom","values":[-4.4,-4.2,-3.8,-3.6,-3.4,-3.2,-2.8,-2.6,-2.4,-2.2,-1.8,-1.6,-1.4,-1.2,-0.8,-0.6,-0.4,-0.2,0.2,0.4,0.6,0.8],"labels":false,"domain":false,"tickSize":-3,"title":null}},
     "y":{"field":"y","type":"quantitative","axis":{"orient":"left","values":[-1.4,-1.3,-1.2,-1.1,-0.9,-0.8,-0.7,-0.6,-0.4,-0.3,-0.2,-0.1,0.1,0.2,0.3,0.4,0.6,0.7,0.8,0.9,1.1,1.2,1.3,1.4],"labels":false,"domain":false,"tickSize":-3,"title":null}},
     "detail":{"field":"g"},"order":{"field":"o","type":"quantitative"}}},
  {"data":{"name":"d"},"transform":[{"filter":"datum.p=='a' && datum.k=='s'"}],
   "mark":{"type":"line","interpolate":"cardinal","color":"#c41414","strokeWidth":2.2,"opacity":0.7},
   "encoding":{"x":{"field":"x","type":"quantitative","axis":{"orient":"top","labels":false,"ticks":false,"title":null}},
     "y":{"field":"y","type":"quantitative","axis":{"orient":"right","labels":false,"ticks":false,"title":null}},
     "detail":{"field":"g"},"order":{"field":"o","type":"quantitative"}}},
  {"data":{"name":"d"},"transform":[{"filter":"datum.p=='a' && datum.k=='p'"}],
   "mark":{"type":"line","color":"#000","strokeWidth":1.3},
   "encoding":{"x":{"field":"x","type":"quantitative","axis":null},"y":{"field":"y","type":"quantitative","axis":null},"detail":{"field":"g"},"order":{"field":"o","type":"quantitative"}}},
  {"data":{"values":[{}]},"mark":{"type":"rule","color":"#111","strokeWidth":1.4,"strokeDash":[7,4]},"encoding":{"y":{"datum":0,"axis":null}}},
  {"data":{"values":[{}]},"mark":{"type":"text","text":"Re = 126","align":"left","baseline":"alphabetic","dy":-3,"fontSize":11.5,"fontWeight":"bold","color":"#222"},"encoding":{"x":{"datum":-0.02,"axis":null},"y":{"datum":0,"axis":null}}},
  {"data":{"values":[{}]},"mark":{"type":"text","text":"Re = 1000","align":"left","baseline":"alphabetic","dy":11.5,"fontSize":11.5,"fontWeight":"bold","color":"#222"},"encoding":{"x":{"datum":-0.02,"axis":null},"y":{"datum":0,"axis":null}}}
 ]},
{"width":340,"height":232,
 "title":{"text":"b","anchor":"start","frame":"bounds","fontSize":21,"fontWeight":"bold","font":"Liberation Sans","color":"#000","dy":22},
 "resolve":{"axis":{"x":"independent","y":"independent"}},
 "layer":[
  {"data":{"name":"d"},"transform":[{"filter":"datum.p=='b' && datum.k=='r'"}],
   "mark":{"type":"line","interpolate":"cardinal-closed","color":"#7a2626","strokeWidth":0.9,"strokeDash":[4,1.5]},
   "encoding":{"x":{"field":"x","type":"quantitative","scale":{"domain":[-4.5,0.92],"nice":false,"zero":false},"axis":{"orient":"bottom","values":[-4,-3,-2,-1,0],"labelExpr":"datum.value+''","title":"X"}},
     "y":{"field":"y","type":"quantitative","scale":{"domain":[-1.5,1.5],"nice":false,"zero":false},"axis":{"orient":"left","values":[-1.5,-1,-0.5,0,0.5,1,1.5],"labelExpr":"datum.value+''","title":"Y"}},
     "detail":{"field":"g"},"order":{"field":"o","type":"quantitative"}}},
  {"data":{"name":"d"},"transform":[{"filter":"datum.p=='b' && datum.k=='c'"}],
   "mark":{"type":"line","interpolate":"cardinal-closed","color":"#b82a2a","strokeWidth":0.9},
   "encoding":{"x":{"field":"x","type":"quantitative","axis":{"orient":"bottom","values":[-4.4,-4.2,-3.8,-3.6,-3.4,-3.2,-2.8,-2.6,-2.4,-2.2,-1.8,-1.6,-1.4,-1.2,-0.8,-0.6,-0.4,-0.2,0.2,0.4,0.6,0.8],"labels":false,"domain":false,"tickSize":-3,"title":null}},
     "y":{"field":"y","type":"quantitative","axis":{"orient":"left","values":[-1.4,-1.3,-1.2,-1.1,-0.9,-0.8,-0.7,-0.6,-0.4,-0.3,-0.2,-0.1,0.1,0.2,0.3,0.4,0.6,0.7,0.8,0.9,1.1,1.2,1.3,1.4],"labels":false,"domain":false,"tickSize":-3,"title":null}},
     "detail":{"field":"g"},"order":{"field":"o","type":"quantitative"}}},
  {"data":{"name":"d"},"transform":[{"filter":"datum.p=='b' && datum.k=='s'"}],
   "mark":{"type":"line","interpolate":"cardinal","color":"#c41414","strokeWidth":2.2,"opacity":0.7},
   "encoding":{"x":{"field":"x","type":"quantitative","axis":{"orient":"top","labels":false,"ticks":false,"title":null}},
     "y":{"field":"y","type":"quantitative","axis":null},
     "detail":{"field":"g"},"order":{"field":"o","type":"quantitative"}}},
  {"data":{"name":"d"},"transform":[{"filter":"datum.p=='b' && datum.k=='p'"}],
   "mark":{"type":"line","color":"#000","strokeWidth":1.3},
   "encoding":{"x":{"field":"x","type":"quantitative","axis":null},"y":{"field":"y","type":"quantitative","axis":null},"detail":{"field":"g"},"order":{"field":"o","type":"quantitative"}}},
  {"data":{"values":[{}]},"mark":{"type":"rule","color":"#8c8c8c","strokeWidth":1.8,"strokeDash":[7,4]},"encoding":{"y":{"datum":0,"axis":null}}},
  {"data":{"values":[{}]},"mark":{"type":"text","text":"Re = 126","align":"left","baseline":"alphabetic","dy":-3,"fontSize":11.5,"fontWeight":"bold","color":"#222"},"encoding":{"x":{"datum":-0.03,"axis":null},"y":{"datum":0,"axis":null}}},
  {"data":{"values":[{}]},"mark":{"type":"text","text":"Re = 1000","align":"left","baseline":"alphabetic","dy":11.5,"fontSize":11.5,"fontWeight":"bold","color":"#222"},"encoding":{"x":{"datum":-0.03,"axis":null},"y":{"datum":0,"axis":null}}}
 ]}
],"spacing":27},
{"hconcat":[
{"width":344,"height":232,
 "title":{"text":"c","anchor":"start","frame":"bounds","fontSize":21,"fontWeight":"bold","font":"Liberation Sans","color":"#000","dy":22},
 "resolve":{"axis":{"x":"independent","y":"independent"}},
 "layer":[
  {"data":{"name":"d"},"transform":[{"filter":"datum.p=='c' && datum.k=='r'"}],
   "mark":{"type":"line","interpolate":"cardinal-closed","color":"#7a2626","strokeWidth":0.9,"strokeDash":[4,1.5]},
   "encoding":{"x":{"field":"x","type":"quantitative","scale":{"domain":[-4.5,1],"nice":false,"zero":false},"axis":{"orient":"bottom","values":[-4,-3,-2,-1,0,1],"labelExpr":"datum.value+''","title":"X"}},
     "y":{"field":"y","type":"quantitative","scale":{"domain":[-1.5,1.5],"nice":false,"zero":false},"axis":{"orient":"left","values":[-1.5,-1,-0.5,0,0.5,1,1.5],"labelExpr":"datum.value+''","title":"Y"}},
     "detail":{"field":"g"},"order":{"field":"o","type":"quantitative"}}},
  {"data":{"name":"d"},"transform":[{"filter":"datum.p=='c' && datum.k=='c'"}],
   "mark":{"type":"line","interpolate":"cardinal-closed","color":"#b82a2a","strokeWidth":0.9},
   "encoding":{"x":{"field":"x","type":"quantitative","axis":{"orient":"bottom","values":[-4.4,-4.2,-3.8,-3.6,-3.4,-3.2,-2.8,-2.6,-2.4,-2.2,-1.8,-1.6,-1.4,-1.2,-0.8,-0.6,-0.4,-0.2,0.2,0.4,0.6,0.8],"labels":false,"domain":false,"tickSize":-3,"title":null}},
     "y":{"field":"y","type":"quantitative","axis":{"orient":"left","values":[-1.4,-1.3,-1.2,-1.1,-0.9,-0.8,-0.7,-0.6,-0.4,-0.3,-0.2,-0.1,0.1,0.2,0.3,0.4,0.6,0.7,0.8,0.9,1.1,1.2,1.3,1.4],"labels":false,"domain":false,"tickSize":-3,"title":null}},
     "detail":{"field":"g"},"order":{"field":"o","type":"quantitative"}}},
  {"data":{"name":"d"},"transform":[{"filter":"datum.p=='c' && datum.k=='s'"}],
   "mark":{"type":"line","interpolate":"cardinal","color":"#c41414","strokeWidth":2.2,"opacity":0.7},
   "encoding":{"x":{"field":"x","type":"quantitative","axis":{"orient":"top","labels":false,"ticks":false,"title":null}},
     "y":{"field":"y","type":"quantitative","axis":{"orient":"right","labels":false,"ticks":false,"title":null}},
     "detail":{"field":"g"},"order":{"field":"o","type":"quantitative"}}},
  {"data":{"name":"d"},"transform":[{"filter":"datum.p=='c' && datum.k=='p'"}],
   "mark":{"type":"line","color":"#000","strokeWidth":1.3},
   "encoding":{"x":{"field":"x","type":"quantitative","axis":null},"y":{"field":"y","type":"quantitative","axis":null},"detail":{"field":"g"},"order":{"field":"o","type":"quantitative"}}},
  {"data":{"values":[{}]},"mark":{"type":"rule","color":"#8c8c8c","strokeWidth":1.8,"strokeDash":[7,4]},"encoding":{"y":{"datum":0,"axis":null}}},
  {"data":{"values":[{}]},"mark":{"type":"text","text":"Re = 126","align":"left","baseline":"alphabetic","dy":-3,"fontSize":11.5,"fontWeight":"bold","color":"#222"},"encoding":{"x":{"datum":-0.02,"axis":null},"y":{"datum":0,"axis":null}}},
  {"data":{"values":[{}]},"mark":{"type":"text","text":"Re = 1000","align":"left","baseline":"alphabetic","dy":11.5,"fontSize":11.5,"fontWeight":"bold","color":"#222"},"encoding":{"x":{"datum":-0.02,"axis":null},"y":{"datum":0,"axis":null}}}
 ]},
{"width":340,"height":232,
 "title":{"text":"d","anchor":"start","frame":"bounds","fontSize":21,"fontWeight":"bold","font":"Liberation Sans","color":"#000","dy":22},
 "resolve":{"axis":{"x":"independent","y":"independent"}},
 "layer":[
  {"data":{"name":"d"},"transform":[{"filter":"datum.p=='d' && datum.k=='r'"}],
   "mark":{"type":"line","interpolate":"cardinal-closed","color":"#7a2626","strokeWidth":0.9,"strokeDash":[4,1.5]},
   "encoding":{"x":{"field":"x","type":"quantitative","scale":{"domain":[-4.5,0.92],"nice":false,"zero":false},"axis":{"orient":"bottom","values":[-4,-3,-2,-1,0],"labelExpr":"datum.value+''","title":"X"}},
     "y":{"field":"y","type":"quantitative","scale":{"domain":[-1.5,1.5],"nice":false,"zero":false},"axis":{"orient":"left","values":[-1.5,-1,-0.5,0,0.5,1,1.5],"labelExpr":"datum.value+''","title":"Y"}},
     "detail":{"field":"g"},"order":{"field":"o","type":"quantitative"}}},
  {"data":{"name":"d"},"transform":[{"filter":"datum.p=='d' && datum.k=='c'"}],
   "mark":{"type":"line","interpolate":"cardinal-closed","color":"#b82a2a","strokeWidth":0.9},
   "encoding":{"x":{"field":"x","type":"quantitative","axis":{"orient":"bottom","values":[-4.4,-4.2,-3.8,-3.6,-3.4,-3.2,-2.8,-2.6,-2.4,-2.2,-1.8,-1.6,-1.4,-1.2,-0.8,-0.6,-0.4,-0.2,0.2,0.4,0.6,0.8],"labels":false,"domain":false,"tickSize":-3,"title":null}},
     "y":{"field":"y","type":"quantitative","axis":{"orient":"left","values":[-1.4,-1.3,-1.2,-1.1,-0.9,-0.8,-0.7,-0.6,-0.4,-0.3,-0.2,-0.1,0.1,0.2,0.3,0.4,0.6,0.7,0.8,0.9,1.1,1.2,1.3,1.4],"labels":false,"domain":false,"tickSize":-3,"title":null}},
     "detail":{"field":"g"},"order":{"field":"o","type":"quantitative"}}},
  {"data":{"name":"d"},"transform":[{"filter":"datum.p=='d' && datum.k=='s'"}],
   "mark":{"type":"line","interpolate":"cardinal","color":"#c41414","strokeWidth":2.2,"opacity":0.7},
   "encoding":{"x":{"field":"x","type":"quantitative","axis":{"orient":"top","labels":false,"ticks":false,"title":null}},
     "y":{"field":"y","type":"quantitative","axis":null},
     "detail":{"field":"g"},"order":{"field":"o","type":"quantitative"}}},
  {"data":{"name":"d"},"transform":[{"filter":"datum.p=='d' && datum.k=='p'"}],
   "mark":{"type":"line","color":"#000","strokeWidth":1.3},
   "encoding":{"x":{"field":"x","type":"quantitative","axis":null},"y":{"field":"y","type":"quantitative","axis":null},"detail":{"field":"g"},"order":{"field":"o","type":"quantitative"}}},
  {"data":{"values":[{}]},"mark":{"type":"rule","color":"#444","strokeWidth":1.5,"strokeDash":[7,4]},"encoding":{"y":{"datum":0,"axis":null}}},
  {"data":{"values":[{}]},"mark":{"type":"text","text":"Re = 126","align":"left","baseline":"alphabetic","dy":-3,"fontSize":11.5,"fontWeight":"bold","color":"#222"},"encoding":{"x":{"datum":-0.03,"axis":null},"y":{"datum":0,"axis":null}}},
  {"data":{"values":[{}]},"mark":{"type":"text","text":"Re = 1000","align":"left","baseline":"alphabetic","dy":11.5,"fontSize":11.5,"fontWeight":"bold","color":"#222"},"encoding":{"x":{"datum":-0.03,"axis":null},"y":{"datum":0,"axis":null}}}
 ]}
],"spacing":27}
],
"spacing":21,
"config":{
 "view":{"stroke":null},
 "font":"Liberation Sans",
 "axis":{"domainColor":"#000","domainWidth":1.3,"tickColor":"#222","tickWidth":1,"tickSize":-6,"labelPadding":13,"labelFont":"Liberation Sans","labelFontSize":13,"labelColor":"#333","labelFlush":false,"labelOverlap":false,"titleFont":"Liberation Sans","titleFontSize":16,"titleFontWeight":"bold","titleColor":"#111","titlePadding":1,"grid":false}
}
}
